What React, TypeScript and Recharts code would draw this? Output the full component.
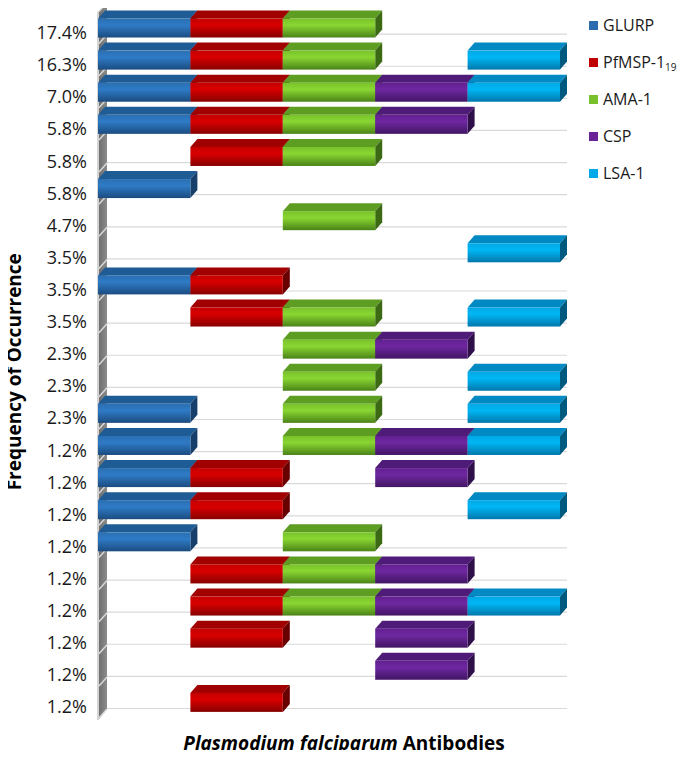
import React from 'react';
import { BarChart, Bar, XAxis, YAxis, CartesianGrid, Legend } from 'recharts';

// Row labels (frequency of occurrence), top to bottom
const rowLabels = ['17.4%', '16.3%', '7.0%', '5.8%', '5.8%', '5.8%', '4.7%', '3.5%', '3.5%', '3.5%', '2.3%',
  '2.3%', '2.3%', '1.2%', '1.2%', '1.2%', '1.2%', '1.2%', '1.2%', '1.2%', '1.2%', '1.2%'];

// Presence (1) / absence (0) of each antibody per row
const GLURP = [1, 1, 1, 1, 0, 1, 0, 0, 1, 0, 0, 0, 1, 1, 1, 1, 1, 0, 0, 0, 0, 0];
const PfMSP = [1, 1, 1, 1, 1, 0, 0, 0, 1, 1, 0, 0, 0, 0, 1, 1, 0, 1, 1, 1, 0, 1];
const AMA1 = [1, 1, 1, 1, 1, 0, 1, 0, 0, 1, 1, 1, 1, 1, 0, 0, 1, 1, 1, 0, 0, 0];
const CSP = [0, 0, 1, 1, 0, 0, 0, 0, 0, 0, 1, 0, 0, 1, 1, 0, 0, 1, 1, 1, 1, 0];
const LSA1 = [0, 1, 1, 0, 0, 0, 0, 1, 0, 1, 0, 1, 1, 1, 0, 1, 0, 0, 1, 0, 0, 0];

const seriesKeys = ['GLURP', 'PfMSP', 'AMA1', 'CSP', 'LSA1'];
const seriesNames = ['GLURP', 'PfMSP-1', 'AMA-1', 'CSP', 'LSA-1'];
const seriesSub = ['', '19', '', '', ''];
const presence = [GLURP, PfMSP, AMA1, CSP, LSA1];

const colors: Record<string, { light: string; base: string; dark: string; top: string; side: string; legend: string }> = {
  GLURP: { light: '#2f7bc6', base: '#2a6fb2', dark: '#1b4c80', top: '#1f5b95', side: '#163f69', legend: '#2a6cb0' },
  PfMSP: { light: '#d80000', base: '#c40000', dark: '#870000', top: '#a00000', side: '#680000', legend: '#c00000' },
  AMA1: { light: '#8ad632', base: '#78c22a', dark: '#4a8318', top: '#5d9d22', side: '#3c6a14', legend: '#78c02c' },
  CSP: { light: '#6e27a0', base: '#632091', dark: '#421664', top: '#4f1b78', side: '#2f0f4a', legend: '#6a2396' },
  LSA1: { light: '#00b6f4', base: '#00a8e6', dark: '#0078ac', top: '#0089c2', side: '#005a80', legend: '#00a9e8' },
};

const data = rowLabels.map((label, i) => {
  const row: Record<string, number | string> = { idx: i, label };
  seriesKeys.forEach((k, s) => {
    row[k] = presence[s][i];
    row[k + '_slot'] = 1;
  });
  return row;
});

const N = rowLabels.length;
const DX = 7;
const DY = 8;
const FONT = '"Open Sans", "Liberation Sans", sans-serif';

const makeShape = (key: string) => (props: any) => {
  const { x, y, width, height, payload } = props;
  if (!payload || !payload[key]) return <g />;
  const c = colors[key];
  const gid = 'grad-' + key;
  const top = `${x},${y} ${x + DX},${y - DY} ${x + width + DX},${y - DY} ${x + width},${y}`;
  const side = `${x + width},${y} ${x + width + DX},${y - DY} ${x + width + DX},${y + height - DY} ${x + width},${y + height}`;
  return (
    <g>
      <defs>
        <linearGradient id={gid} x1="0" y1="0" x2="0" y2="1">
          <stop offset="0%" stopColor={c.base} />
          <stop offset="35%" stopColor={c.light} />
          <stop offset="100%" stopColor={c.dark} />
        </linearGradient>
      </defs>
      <polygon points={top} fill={c.top} />
      <polygon points={side} fill={c.side} />
      <rect x={x} y={y} width={width} height={height} fill={`url(#${gid})`} />
    </g>
  );
};

const YTick = (props: any) => {
  const { x, y, payload } = props;
  return (
    <text x={x} y={y + 4.5} textAnchor="end" dominantBaseline="central" fontSize={18} fontFamily={FONT} fill="#1a1a1a">
      {rowLabels[payload.value]}
    </text>
  );
};

const WallLine = (props: any) => {
  const { x1, y1, y2 } = props;
  const bands = Array.from({ length: N + 1 }, (_, i) => y1 + (i * (y2 - y1)) / N);
  const l = x1 - 1;
  const wall = `${l + 2},${y1} ${l + 2 + 8},${y1 - 9} ${l + 2 + 8},${y2 - 9} ${l + 2},${y2 + 1}`;
  return (
    <g key="wall">
      <defs>
        <linearGradient id="wallGrad" x1="0" y1="0" x2="1" y2="0">
          <stop offset="0%" stopColor="#6f6f6f" />
          <stop offset="100%" stopColor="#8c8c8c" />
        </linearGradient>
      </defs>
      <polygon points={wall} fill="url(#wallGrad)" />
      <rect x={l} y={y1} width={2} height={y2 - y1 + 2} fill="#d4d4d4" />
      {bands.map((b, i) => (
        <line key={i} x1={l + 2} y1={b} x2={l + 10} y2={b - 9} stroke="#d8d8d8" strokeWidth={1.5} />
      ))}
    </g>
  );
};

const GridLine = (props: any) => {
  const { x1, x2, y1, index } = props;
  return <line key={'h' + index} x1={x1 + 9} x2={x2 + 7} y1={y1 - 9.5} y2={y1 - 9.5} stroke="#d9d9d9" strokeWidth={1.2} />;
};

const renderLegend = () => (
  <div style={{ fontFamily: FONT, fontSize: 16, color: '#1a1a1a' }}>
    {seriesKeys.map((k, i) => (
      <div key={k} style={{ height: 37, display: 'flex', alignItems: 'center' }}>
        <span style={{ display: 'inline-block', width: 9, height: 9, background: colors[k].legend, marginRight: 5 }} />
        <span>
          {seriesNames[i]}
          {seriesSub[i] ? <sub style={{ fontSize: 10, verticalAlign: -3 }}>{seriesSub[i]}</sub> : null}
        </span>
      </div>
    ))}
  </div>
);

const YTitle = (props: any) => {
  const { viewBox } = props;
  const cy = viewBox.y + viewBox.height / 2 + 7;
  return (
    <text x={14} y={cy} transform={`rotate(-90, 14, ${cy})`} textAnchor="middle" dominantBaseline="central"
      fontSize={19} fontWeight="bold" fontFamily={FONT} fill="#000">
      Frequency of Occurrence
    </text>
  );
};

const XTitle = (props: any) => {
  const { viewBox } = props;
  const cx = viewBox.x + viewBox.width / 2 + 15;
  return (
    <text x={cx} y={743} textAnchor="middle" dominantBaseline="central" fontSize={19} fontWeight="bold" fontFamily={FONT} fill="#000">
      <tspan fontStyle="italic">Plasmodium falciparum</tspan> Antibodies
    </text>
  );
};

export default function App() {
  return (
    <div style={{ margin: '-8px', width: 685, height: 758 }}>
      <BarChart
        width={685}
        height={758}
        data={data}
        layout="vertical"
        margin={{ top: 11.5, right: 125, bottom: 0, left: 0 }}
        barSize={19}
      >
        <CartesianGrid
          horizontal={GridLine}
          vertical={WallLine}
          horizontalCoordinatesGenerator={({ offset }: any) =>
            Array.from({ length: N + 1 }, (_, i) => offset.top + (i * offset.height) / N)
          }
          verticalCoordinatesGenerator={({ offset }: any) => [offset.left]}
        />
        <XAxis type="number" domain={[0, 5]} tick={false} axisLine={false} tickLine={false} height={40} label={<XTitle />} />
        <YAxis
          type="category"
          dataKey="idx"
          width={98}
          interval={0}
          tick={<YTick />}
          tickLine={false}
          axisLine={false}
          tickSize={0}
          tickMargin={11}
          label={<YTitle />}
        />
        <Legend
          layout="vertical"
          align="center"
          verticalAlign="middle"
          content={renderLegend}
          wrapperStyle={{ left: 589, top: 6.5, width: 96 }}
        />
        {seriesKeys.map((k, i) => (
          <Bar key={k} dataKey={k + '_slot'} name={seriesNames[i]} stackId="a" fill={colors[k].legend}
            isAnimationActive={false} shape={makeShape(k)} />
        ))}
      </BarChart>
    </div>
  );
}
